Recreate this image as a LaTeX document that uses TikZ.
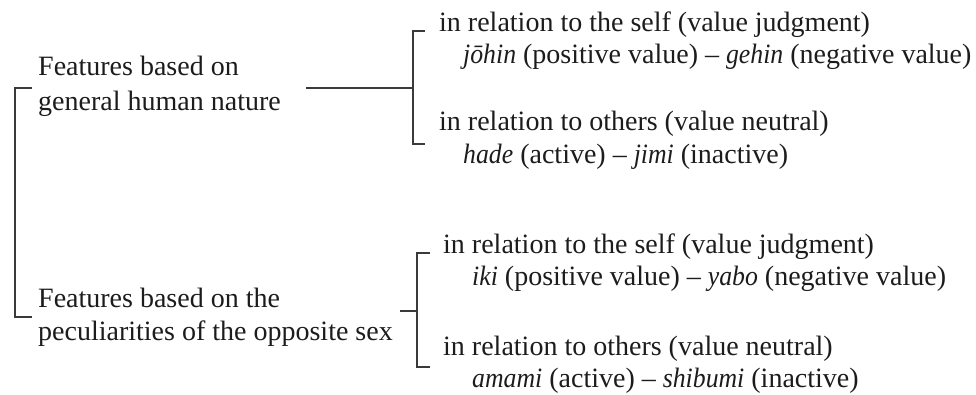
\documentclass[tikz,border=0pt]{standalone}
\usepackage{fontspec}
\setmainfont{Liberation Serif}[ItalicFeatures={FakeStretch=0.92}]
\usepackage{xcolor}
\definecolor{inkgray}{HTML}{1C1C1C}
\definecolor{rulegray}{HTML}{3A3A3A}
\tikzset{entry/.style={anchor=base west, inner sep=0pt, text=inkgray, font=\fontsize{28}{33}\selectfont},
 bracket/.style={draw=rulegray, line width=1.6pt},
 }

\begin{document}
\begin{tikzpicture}[x=1pt,y=-1pt]
        \useasboundingbox (0,0) rectangle (976,394);
        \node[entry] (gen1) at (38,75) {Features based on};
        \node[entry] (gen2) at (38,110) {general human nature};
        \node[entry] (opp1) at (38,307) {Features based on the};
        \node[entry] (opp2) at (38,340) {peculiarities of the opposite sex};
        \node[entry] (selfA) at (439,31) {in relation to the self (value judgment)};
        \node[entry] (selfAx) at (463,63) {\textit{jōhin} (positive value) – \textit{gehin} (negative value)};
        \node[entry] (othA) at (439,130) {in relation to others (value neutral)};
        \node[entry] (othAx) at (463,163) {\textit{hade} (active) – \textit{jimi} (inactive)};
        \node[entry] (selfB) at (443,253) {in relation to the self (value judgment)};
        \node[entry] (selfBx) at (472,285) {\textit{iki} (positive value) – \textit{yabo} (negative value)};
        \node[entry] (othB) at (443,355) {in relation to others (value neutral)};
        \node[entry] (othBx) at (472,387) {\textit{amami} (active) – \textit{shibumi} (inactive)};
        \coordinate (genT) at (32,88);
        \coordinate (oppT) at (32,317);
        \coordinate (rootV) at (15,200);
        \coordinate (genR) at (306,88);
        \coordinate (forkA) at (413,88);
        \coordinate (selfAT) at (425,31);
        \coordinate (othAT) at (425,144);
        \coordinate (oppR) at (400,311);
        \coordinate (forkB) at (417,311);
        \coordinate (selfBT) at (430,253);
        \coordinate (othBT) at (430,367);
        \draw[bracket] (genT) -| (rootV) |- (oppT);
        \draw[bracket] (genR) -- (forkA);
        \draw[bracket] (selfAT) -| (forkA) |- (othAT);
        \draw[bracket] (oppR) -- (forkB);
        \draw[bracket] (selfBT) -| (forkB) |- (othBT);
    \end{tikzpicture}
\end{document}
